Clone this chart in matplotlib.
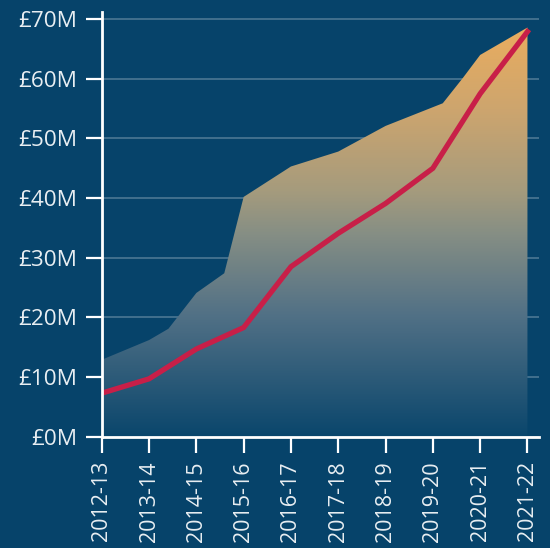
import numpy as np
import matplotlib
matplotlib.use("Agg")
import matplotlib.pyplot as plt
from matplotlib.colors import LinearSegmentedColormap
from matplotlib.patches import Polygon

# annees (axe x)
years = ["2012-13", "2013-14", "2014-15", "2015-16", "2016-17",
         "2017-18", "2018-19", "2019-20", "2020-21", "2021-22"]

# serie ligne (rouge), en millions de livres
line_vals = [7.3, 9.7, 14.7, 18.3, 28.5, 34.1, 39.1, 45.0, 57.5, 67.9]

# serie aire (degrade), avec points intermediaires
area_x = [0, 1, 1.41, 2, 2.59, 3, 4, 5, 6, 7.21, 7.64, 8, 9]
area_vals = [12.9, 16.2, 18.1, 24.1, 27.4, 40.2, 45.3, 47.8, 52.1, 55.9, 60.2, 64.0, 68.6]

yticks = [0, 10, 20, 30, 40, 50, 60, 70]
ytick_labels = ["£%dM" % v for v in yticks]

BG = "#06436a"
RED = "#c81f48"
TXT = "#e8eef2"

fig = plt.figure(figsize=(5.5, 5.48), dpi=100, facecolor=BG)
ax = fig.add_axes([0.185, 0.2031, 0.7955, 0.775])
ax.set_facecolor(BG)

x = np.arange(len(years))
ymax = 71.2

# degrade vertical (fond -> gris -> orange), decoupe par le polygone de l'aire
stops = [(0.0, (10, 70, 108)), (0.3, (82, 113, 134)), (0.5, (135, 143, 132)),
         (0.6, (165, 155, 125)), (0.8, (205, 165, 110)), (1.0, (234, 173, 95))]
cmap = LinearSegmentedColormap.from_list(
    "grad", [(p, tuple(c / 255 for c in rgb)) for p, rgb in stops])
top = max(area_vals)
grad = np.linspace(0, 1, 256).reshape(-1, 1)
img = ax.imshow(grad, cmap=cmap, origin="lower", aspect="auto",
                extent=(area_x[0], area_x[-1], 0, top), zorder=1)
poly = Polygon(list(zip(area_x, area_vals)) + [(area_x[-1], 0), (area_x[0], 0)],
               closed=True, facecolor="none", edgecolor="none")
ax.add_patch(poly)
img.set_clip_path(poly)

ax.plot(x, line_vals, color=RED, lw=3.8, solid_joinstyle="miter", zorder=3)

ax.set_xlim(0, 9.25)
ax.set_ylim(0, ymax)
ax.set_yticks(yticks)
ax.set_yticklabels(ytick_labels)
ax.set_xticks(x)
ax.set_xticklabels(years, rotation=90)

ax.grid(axis="y", color="white", alpha=0.3, lw=1.1, zorder=0)
ax.set_axisbelow(True)

for s in ["top", "right"]:
    ax.spines[s].set_visible(False)
for s in ["left", "bottom"]:
    ax.spines[s].set_color("white")
    ax.spines[s].set_linewidth(2)
    ax.spines[s].set_zorder(4)

ax.tick_params(axis="both", colors="white", length=11.5, width=1.6,
               labelcolor=TXT, labelsize=15.5, pad=6)
ax.tick_params(axis="y", labelsize=16.2)
for lab in ax.get_xticklabels() + ax.get_yticklabels():
    lab.set_family(["Open Sans", "DejaVu Sans"])

fig.savefig("out.png", dpi=100, facecolor=BG)
